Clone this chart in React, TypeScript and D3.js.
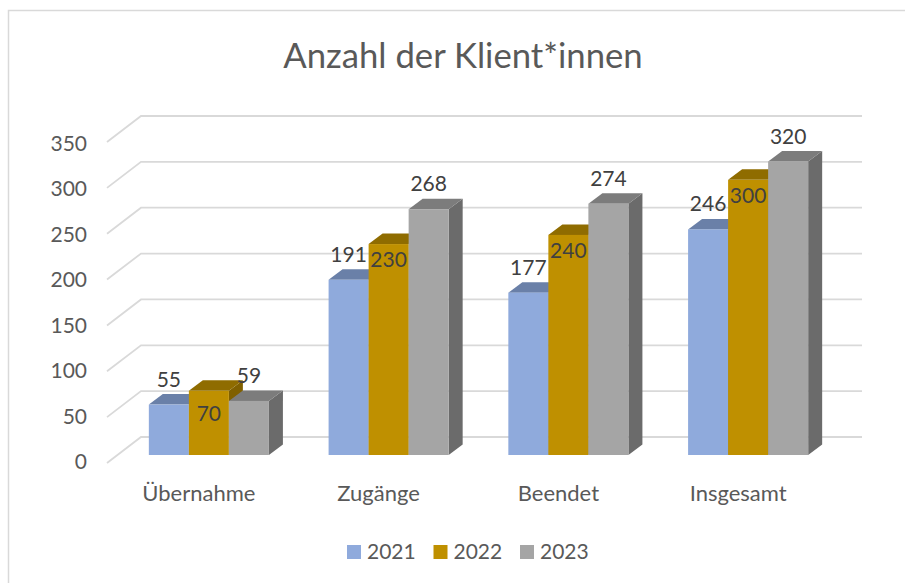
import React from "react";
import * as d3 from "d3";

const categories = ["Übernahme", "Zugänge", "Beendet", "Insgesamt"];
const years = ["2021", "2022", "2023"];
const values2021 = [55, 191, 177, 246];
const values2022 = [70, 230, 240, 300];
const values2023 = [59, 268, 274, 320];
const yTicks = [0, 50, 100, 150, 200, 250, 300, 350];

const series = [values2021, values2022, values2023];
const frontColors = ["#8faadc", "#bf9000", "#a5a5a5"];
const topColors = ["#6a80a8", "#8f6c00", "#7c7c7c"];
const sideColors = ["#5f7396", "#806000", "#6b6b6b"];

const width = 905;
const height = 583;
const depthX = 14;
const depthY = 10.5;
const baseY = 455;

const x0 = d3.scaleBand<string>().domain(categories).range([119, 838]).paddingInner(0.332).paddingOuter(0.166);
const x1 = d3.scaleBand<string>().domain(years).range([0, x0.bandwidth()]);
const y = d3.scaleLinear().domain([0, 350]).range([baseY, baseY - 321]);
// tick labels are spaced a little tighter than the gridlines
const yLabel = d3.scaleLinear().domain([0, 350]).range([469, 151]);

const font = "Lato, Carlito, 'Noto Sans', sans-serif";

// label offset from the bar top, 2022 sits inside the bar
function labelOffset(s: number, v: number) {
  if (s !== 1) return -18;
  return v === 70 ? 30 : 23;
}

export default function App() {
  const poly = (pts: [number, number][]) => pts.map((p) => p.join(",")).join(" ");
  return (
    <svg width={width} height={height} style={{ position: "absolute", left: 0, top: 0, background: "#fff" }}>
      <path d={`M${width} 10.5H8.5V${height}`} fill="none" stroke="#d9d9d9" strokeWidth={1.5} />
      <text x={463} y={68} textAnchor="middle" fontFamily={font} fontSize={34.7} fill="#595959">
        Anzahl der Klient*innen
      </text>

      {yTicks.map((t) => (
        <g key={t}>
          <polyline
            points={poly([
              [107, y(t) + 8],
              [141, y(t) - 18],
              [862, y(t) - 18],
            ])}
            fill="none"
            stroke="#d9d9d9"
            strokeWidth={1.8}
          />
          <text x={87} y={yLabel(t)} textAnchor="end" fontFamily={font} fontSize={21} fill="#595959">
            {t}
          </text>
        </g>
      ))}

      {categories.map((c, i) => (
        <g key={c}>
          {years.map((yr, s) => {
            const left = x0(c)! + x1(yr)!;
            const right = left + x1.bandwidth();
            const top = y(series[s][i]);
            return (
              <g key={yr}>
                <polygon
                  points={poly([
                    [right, top],
                    [right + depthX, top - depthY],
                    [right + depthX, baseY - depthY],
                    [right, baseY],
                  ])}
                  fill={sideColors[s]}
                />
                <polygon
                  points={poly([
                    [left, top],
                    [left + depthX, top - depthY],
                    [right + depthX, top - depthY],
                    [right, top],
                  ])}
                  fill={topColors[s]}
                />
                <rect x={left} y={top} width={x1.bandwidth()} height={baseY - top} fill={frontColors[s]} />
              </g>
            );
          })}
          <text x={x0(c)! + x0.bandwidth() / 2 - 10} y={501} textAnchor="middle" fontFamily={font} fontSize={22} fill="#595959">
            {c}
          </text>
        </g>
      ))}

      {categories.map((c, i) =>
        years.map((yr, s) => (
          <text
            key={c + yr}
            x={x0(c)! + x1(yr)! + x1.bandwidth() / 2}
            y={y(series[s][i]) + labelOffset(s, series[s][i])}
            textAnchor="middle"
            fontFamily={font}
            fontSize={21}
            fill="#404040"
          >
            {series[s][i]}
          </text>
        ))
      )}

      {years.map((yr, s) => (
        <g key={yr} transform={`translate(${347 + s * 86.5},545)`}>
          <rect width={14} height={14} fill={frontColors[s]} />
          <text x={20} y={14} fontFamily={font} fontSize={21} fill="#595959">
            {yr}
          </text>
        </g>
      ))}
    </svg>
  );
}
